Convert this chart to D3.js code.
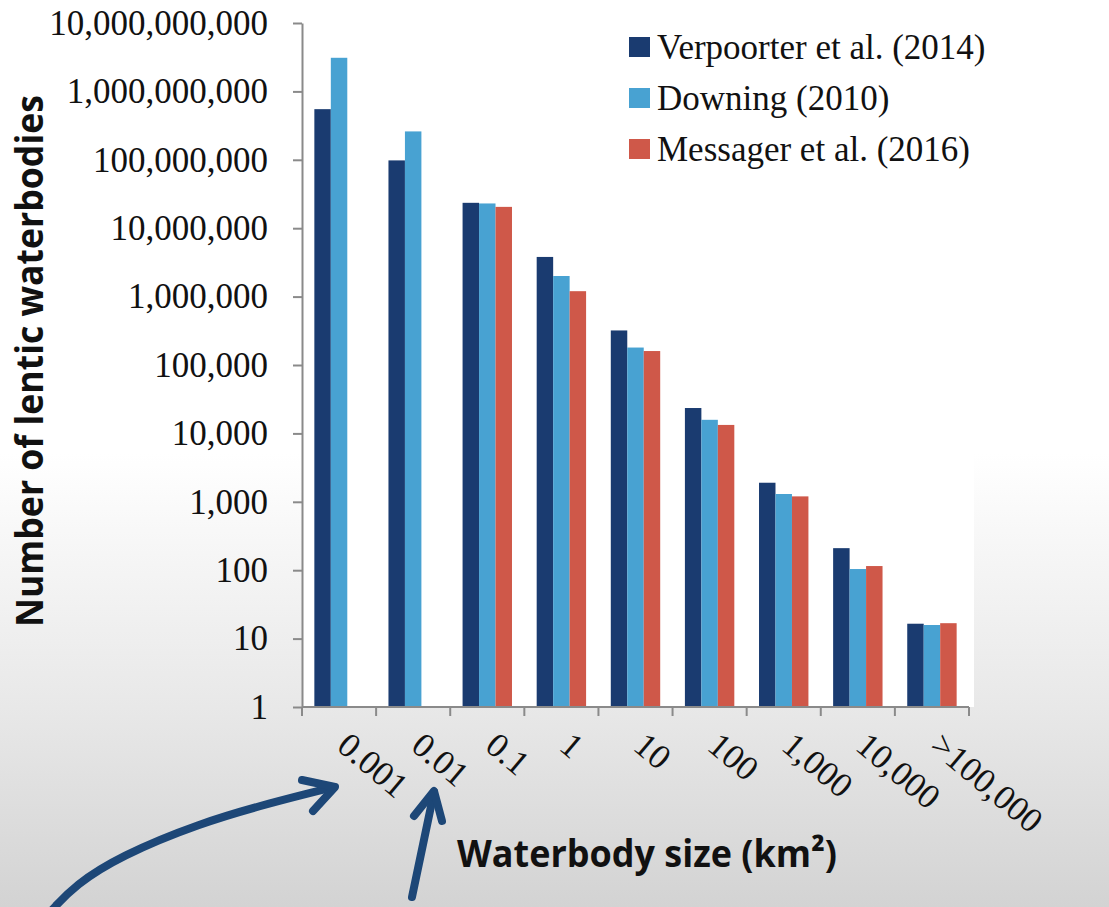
<!DOCTYPE html>
<html>
<head>
<meta charset="utf-8">
<script src="https://cdn.jsdelivr.net/npm/d3@7"></script>
<style>
  body { margin: 0; }
  svg { display: block; }
</style>
</head>
<body>
<div id="chart"></div>
<script>
// waterbody size classes (km²)
const sizeLabels = ["0.001", "0.01", "0.1", "1", "10", "100", "1,000", "10,000", ">100,000"];
const seriesNames = ["Verpoorter et al. (2014)", "Downing (2010)", "Messager et al. (2016)"];
const seriesColors = ["#1a3b70", "#48a2d2", "#cf5849"];

// counts
const verpoorter = [550000000, 98000000, 23500000, 3800000, 320000, 23500, 1900, 210, 16.5];
const downing    = [3100000000, 260000000, 23000000, 2000000, 180000, 15800, 1300, 104, 15.8];
const messager   = [null, null, 20500000, 1200000, 160000, 13300, 1200, 115, 16.8];

const yTicks = [1, 10, 100, 1000, 10000, 100000, 1000000, 10000000, 100000000, 1000000000, 10000000000];

const W = 1109, H = 907;
const svg = d3.select("#chart").append("svg")
  .attr("width", W)
  .attr("height", H);

// slide background
const defs = svg.append("defs");
const grad = defs.append("linearGradient")
  .attr("id", "bg").attr("x1", 0).attr("y1", 0).attr("x2", 0).attr("y2", 1);
grad.append("stop").attr("offset", "0%").attr("stop-color", "#ffffff");
grad.append("stop").attr("offset", "50%").attr("stop-color", "#ffffff");
grad.append("stop").attr("offset", "78%").attr("stop-color", "#e8e8e8");
grad.append("stop").attr("offset", "100%").attr("stop-color", "#d3d3d3");
svg.append("rect").attr("width", W).attr("height", H).attr("fill", "url(#bg)");

const x = d3.scaleBand().domain(sizeLabels).range([302, 969]);
const xs = d3.scaleBand().domain(seriesNames).range([0, x.bandwidth()]).paddingOuter(0.75);
const y = d3.scaleLog().domain([1, 1e10]).range([707, 23]);

// white plot area
svg.append("rect")
  .attr("x", 302).attr("y", 10)
  .attr("width", 672).attr("height", 697)
  .attr("fill", "#ffffff");

const table = sizeLabels.map((s, i) => ({
  size: s,
  values: [verpoorter[i], downing[i], messager[i]]
}));

// bars
const group = svg.append("g")
  .selectAll("g")
  .data(table)
  .join("g")
  .attr("transform", d => `translate(${x(d.size)},0)`);

group.selectAll("rect")
  .data(d => d.values.map((v, j) => ({ name: seriesNames[j], value: v, color: seriesColors[j] })).filter(e => e.value))
  .join("rect")
  .attr("x", e => xs(e.name))
  .attr("width", xs.bandwidth())
  .attr("y", e => y(e.value))
  .attr("height", e => y(1) - y(e.value))
  .attr("fill", e => e.color);

// y axis
const yAxis = svg.append("g")
  .attr("transform", "translate(302,0)")
  .call(d3.axisLeft(y).tickValues(yTicks).tickFormat(d3.format(",")).tickSize(9).tickPadding(25).tickSizeOuter(0));
yAxis.select(".domain").attr("stroke", "#8a8a8a").attr("stroke-width", 2);
yAxis.selectAll(".tick line").attr("stroke", "#8a8a8a").attr("stroke-width", 2);
yAxis.selectAll(".tick text")
  .attr("fill", "#111")
  .style("font-family", "'Liberation Serif', 'Times New Roman', serif")
  .style("font-size", "35px");

// x axis: line + ticks at category boundaries
const xAxis = svg.append("g").attr("transform", "translate(0,707)");
xAxis.append("line")
  .attr("x1", 302).attr("x2", x.range()[1])
  .attr("stroke", "#8a8a8a").attr("stroke-width", 2);
const bounds = sizeLabels.map(s => x(s)).concat([x.range()[1]]);
xAxis.selectAll("line.tk")
  .data(bounds)
  .join("line")
  .attr("class", "tk")
  .attr("x1", d => d).attr("x2", d => d)
  .attr("y1", 0).attr("y2", 9)
  .attr("stroke", "#8a8a8a").attr("stroke-width", 2);

xAxis.selectAll("text")
  .data(sizeLabels)
  .join("text")
  .attr("transform", d => `translate(${x(d) + x.bandwidth() / 2 + 12},23) rotate(40)`)
  .attr("dy", "0.7em")
  .attr("fill", "#111")
  .style("font-family", "'Liberation Serif', 'Times New Roman', serif")
  .style("font-size", "35px")
  .text(d => d);

// axis titles
svg.append("text")
  .attr("transform", "translate(43,361) rotate(-90)")
  .attr("text-anchor", "middle")
  .attr("textLength", 532)
  .attr("lengthAdjust", "spacingAndGlyphs")
  .style("font-family", "'Open Sans', sans-serif")
  .style("font-weight", "bold")
  .style("font-size", "38px")
  .attr("fill", "#111")
  .text("Number of lentic waterbodies");

svg.append("text")
  .attr("x", 647).attr("y", 867)
  .attr("text-anchor", "middle")
  .attr("textLength", 380)
  .attr("lengthAdjust", "spacingAndGlyphs")
  .style("font-family", "'Open Sans', sans-serif")
  .style("font-weight", "bold")
  .style("font-size", "38px")
  .attr("fill", "#111")
  .text("Waterbody size (km²)");

// legend
const legend = svg.append("g");
legend.append("rect")
  .attr("x", 618).attr("y", 18).attr("width", 385).attr("height", 160)
  .attr("fill", "#ffffff");
const item = legend.selectAll("g.item")
  .data(seriesNames)
  .join("g")
  .attr("class", "item")
  .attr("transform", (d, i) => `translate(629,${47 + i * 51})`);
item.append("rect")
  .attr("y", -10).attr("width", 21).attr("height", 20)
  .attr("fill", (d, i) => seriesColors[i]);
item.append("text")
  .attr("x", 28).attr("dy", "0.33em")
  .attr("fill", "#111")
  .style("font-family", "'Liberation Serif', 'Times New Roman', serif")
  .style("font-size", "35px")
  .text(d => d);

// hand-drawn arrows pointing at the two smallest classes
const ink = "#1d4777";
const arrows = svg.append("g")
  .attr("fill", "none")
  .attr("stroke", ink)
  .attr("stroke-width", 8)
  .attr("stroke-linecap", "round")
  .attr("stroke-linejoin", "round");
arrows.append("path")
  .attr("d", d3.line().curve(d3.curveBasis)([[52, 910], [75, 885], [120, 856], [200, 823], [270, 803], [334, 787]]));
arrows.append("path").attr("d", d3.line()([[302, 780], [335, 787], [313, 811]]));
arrows.append("path").attr("d", d3.line()([[412, 897], [434, 792]]));
arrows.append("path").attr("d", d3.line()([[414, 816], [434, 791], [442, 821]]));
</script>
</body>
</html>
